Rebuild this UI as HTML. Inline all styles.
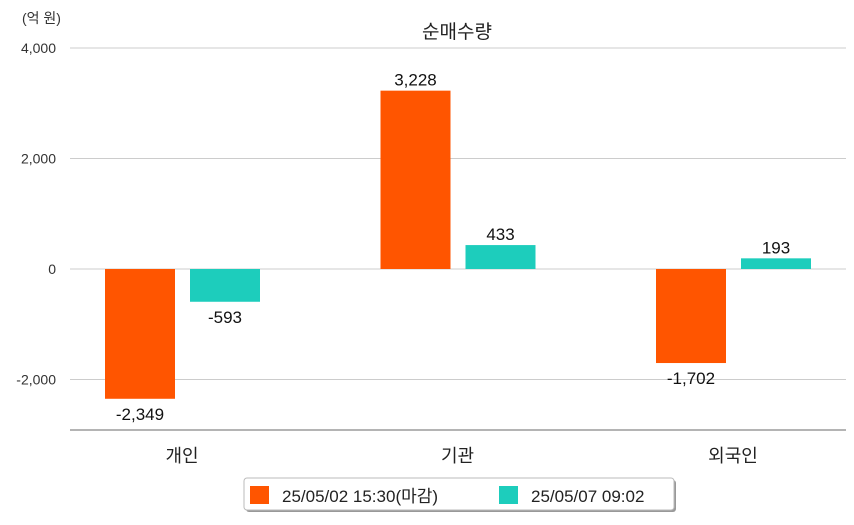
<!DOCTYPE html>
<html><head><meta charset="utf-8"><style>
body{margin:0;background:#fff;font-family:"Liberation Sans","Noto Sans CJK KR",sans-serif;}
svg text{font-family:"Liberation Sans","Noto Sans CJK KR",sans-serif;}
</style></head><body>
<svg id="c" width="854" height="520">
<text x="22" y="23" font-size="14" fill="#333">(억 원)</text>
<text x="457" y="38" font-size="19" text-anchor="middle" fill="#222">순매수량</text>
<g id="grid"></g><g id="bars"></g>
<line x1="70" y1="430" x2="846" y2="430" stroke="#888" stroke-width="1.2"/>
<g>
<rect x="246" y="480" width="430" height="32" fill="#999" rx="3"/>
<rect x="244" y="478" width="430" height="32" fill="#fff" stroke="#bbb" rx="3"/>
<rect x="250" y="486" width="19" height="18" fill="#ff5500"/>
<text x="282" y="502" font-size="17" fill="#222">25/05/02 15:30(마감)</text>
<rect x="499" y="486" width="19" height="18" fill="#1dcdbc"/>
<text x="531" y="502" font-size="17" fill="#222">25/05/07 09:02</text>
</g>
</svg>
<script>
const categories=["개인","기관","외국인"];
const series1=[-2349,3228,-1702];
const series2=[-593,433,193];
const ticks=[4000,2000,0,-2000];
const tickLabels=["4,000","2,000","0","-2,000"];
const ns="http://www.w3.org/2000/svg";
const y=v=>269-v*(110.5/2000);
const gx=i=>182+i*275.5;
function mk(t,a,p){const e=document.createElementNS(ns,t);for(const k in a)e.setAttribute(k,a[k]);p.appendChild(e);return e;}
const grid=document.getElementById('grid'),bars=document.getElementById('bars');
ticks.forEach((t,i)=>{
 const l=mk('line',{x1:70,x2:846,y1:y(t),y2:y(t),stroke:'#ccc'},grid);
 
 
 const tx=mk('text',{x:56,y:y(t)+5,'font-size':14,'text-anchor':'end',fill:'#333'},grid);
 tx.textContent=tickLabels[i];
 
 
});
const fmt=v=>v.toLocaleString('en-US');
categories.forEach((c,i)=>{
 const ct=mk('text',{x:gx(i),y:462,'font-size':18,'text-anchor':'middle',fill:'#222'},bars);
 ct.textContent=c;
 
 
 [[series1,'#ff5500',-77],[series2,'#1dcdbc',8]].forEach(([s,col,off],j)=>{
  const v=s[i],y0=y(0),y1=y(v);
  const r=mk('rect',{x:gx(i)+off,y:Math.min(y0,y1),width:70,height:Math.abs(y1-y0),fill:col},bars);
  
  
  const t=mk('text',{x:gx(i)+off+35,y:v>=0?y1-5:y1+21,'font-size':17,'text-anchor':'middle',fill:'#111'},bars);
  t.textContent=fmt(v);
  
  
 });
});
</script>
</body></html>
